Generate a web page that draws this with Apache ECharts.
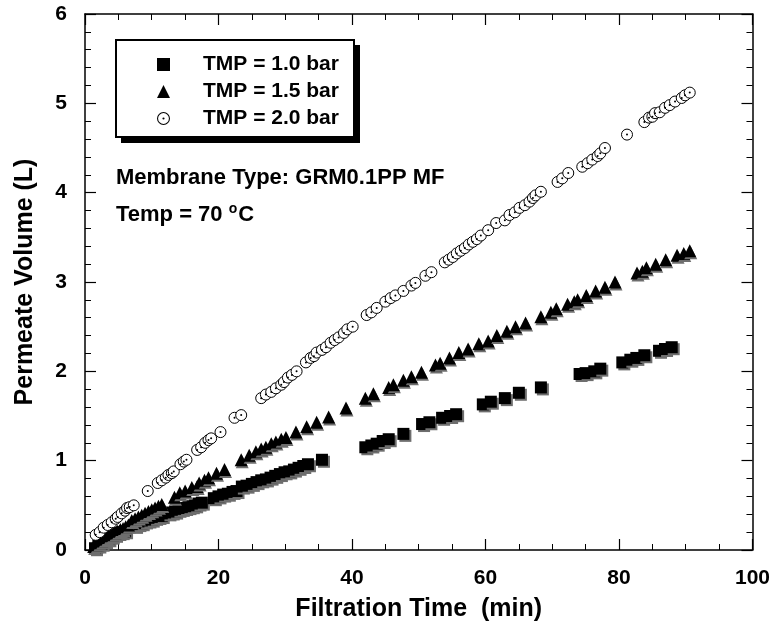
<!DOCTYPE html>
<html>
<head>
<meta charset="utf-8">
<script src="https://cdn.jsdelivr.net/npm/echarts@6/dist/echarts.min.js"></script>
<style>html,body{margin:0;padding:0;background:#fff;}#c{width:773px;height:628px;}</style>
</head>
<body>
<div id="c"></div>
<script>
const seriesNames = ['TMP = 1.0 bar', 'TMP = 1.5 bar', 'TMP = 2.0 bar'];
const xTicks = [0, 20, 40, 60, 80, 100];
const yTicks = [0, 1, 2, 3, 4, 5, 6];

const tmp10 = [[1.5,0.02],[2.0,0.05],[2.5,0.07],[3.0,0.10],[3.5,0.12],[4.0,0.15],[4.5,0.17],[5.0,0.19],[5.5,0.20],[6.0,0.21],
[7.5,0.27],[8.0,0.29],[8.5,0.30],[9.0,0.32],[9.5,0.33],[10.0,0.34],[10.5,0.36],[11.0,0.37],[11.5,0.38],[12.5,0.41],[13.0,0.42],[13.5,0.43],[14.0,0.45],[14.5,0.46],[15.0,0.47],[15.5,0.48],[16.0,0.49],[16.5,0.50],[17.0,0.52],[17.5,0.53],
[19.3,0.58],[20.0,0.60],[20.7,0.62],[21.4,0.63],[22.1,0.65],[22.7,0.66],
[23.5,0.71],[24.2,0.72],[25.0,0.74],[25.7,0.76],[26.4,0.78],[27.1,0.79],[27.8,0.81],[28.5,0.83],[29.2,0.85],[29.9,0.87],[30.6,0.88],[31.3,0.90],[32.0,0.92],[32.7,0.94],[33.4,0.96],
[35.5,1.01],[42.0,1.15],[42.9,1.17],[43.7,1.19],[44.6,1.22],[45.5,1.24],[47.7,1.30],
[50.5,1.41],[51.6,1.43],[53.5,1.48],[54.7,1.50],[55.6,1.52],[59.6,1.63],[60.8,1.66],[62.9,1.70],[65.0,1.76],[68.3,1.82],
[74.1,1.97],[75.0,1.98],[76.3,2.00],[77.2,2.03],[80.5,2.10],[81.7,2.13],[82.6,2.15],[83.8,2.18],[86.0,2.23],[86.9,2.25],[87.9,2.27]];

const tmp15 = [[1.3,0.04],[1.7,0.06],[2.1,0.08],[2.5,0.10],[2.9,0.12],[3.3,0.14],[3.7,0.16],[4.1,0.17],[4.5,0.19],[4.9,0.21],[5.3,0.23],[5.7,0.24],[6.1,0.26],[6.5,0.28],
[7.0,0.33],[7.5,0.35],[8.0,0.37],[8.5,0.39],[9.0,0.41],[9.5,0.43],[10.0,0.45],[10.5,0.47],[11.0,0.49],[11.5,0.51],
[13.4,0.59],[14.2,0.64],[15.0,0.66],[16.0,0.70],[16.8,0.71],[17.1,0.75],[17.9,0.78],[18.5,0.81],[19.7,0.86],[20.9,0.90],
[23.4,1.01],[24.6,1.06],[25.6,1.10],[26.4,1.13],[27.1,1.15],[27.9,1.19],[28.6,1.21],[29.4,1.24],[30.1,1.26],[31.6,1.32],[33.2,1.38],[34.7,1.43],[36.5,1.49],
[39.1,1.59],[42.0,1.70],[43.2,1.75],[45.5,1.82],[46.2,1.85],[47.7,1.90],[48.9,1.94],[50.4,1.99],[52.5,2.07],[53.2,2.09],[54.6,2.15],[56.0,2.21],[57.4,2.25],[59.0,2.31],[60.4,2.34],[61.7,2.40],[63.2,2.45],[64.5,2.50],[66.0,2.54],
[68.3,2.61],[69.8,2.66],[70.6,2.70],[72.3,2.75],[73.3,2.78],[73.8,2.80],[75.1,2.85],[76.5,2.90],[77.9,2.94],[79.4,3.00],
[82.7,3.10],[83.5,3.12],[84.1,3.16],[85.5,3.20],[87.0,3.25],[88.7,3.30],[89.7,3.32],[90.6,3.35]];

const tmp20 = [[1.6,0.17],[2.2,0.20],[2.8,0.25],[3.4,0.28],[4.0,0.31],[4.6,0.35],[4.9,0.37],[5.5,0.41],[6.0,0.44],[6.3,0.47],[6.7,0.48],[7.3,0.50],
[9.4,0.66],[10.9,0.75],[11.5,0.78],[12.1,0.81],[12.5,0.84],[13.0,0.86],[13.3,0.88],[14.3,0.96],[14.8,0.99],[15.2,1.01],
[16.8,1.12],[17.4,1.15],[18.0,1.20],[18.5,1.23],[18.9,1.25],[20.3,1.32],[22.4,1.48],[23.4,1.51],
[26.4,1.70],[27.1,1.74],[27.9,1.77],[28.6,1.81],[29.4,1.85],[29.8,1.88],[30.4,1.93],[31.0,1.96],[31.7,2.00],
[33.1,2.10],[33.8,2.15],[34.3,2.17],[34.7,2.21],[35.5,2.24],[36.1,2.27],[36.8,2.32],[37.4,2.35],[38.0,2.38],[38.8,2.43],[39.3,2.47],[40.1,2.50],
[42.2,2.63],[42.9,2.66],[43.7,2.71],[45.0,2.78],[45.8,2.82],[46.5,2.85],[47.7,2.90],[48.9,2.96],[49.5,2.99],[51.0,3.07],[51.9,3.11],
[53.9,3.22],[54.5,3.25],[55.1,3.28],[55.7,3.32],[56.3,3.35],[56.9,3.38],[57.5,3.42],[58.1,3.45],[58.7,3.48],[59.3,3.52],
[60.4,3.58],[61.6,3.66],[62.9,3.69],[63.6,3.75],[64.4,3.78],[65.1,3.83],[65.9,3.86],[66.6,3.90],[67.1,3.94],[67.5,3.97],[68.3,4.01],
[70.8,4.12],[71.5,4.16],[72.4,4.22],[74.5,4.29],[75.3,4.33],[76.0,4.37],[76.8,4.41],[77.2,4.44],[77.9,4.50],[81.2,4.65],
[83.8,4.79],[84.5,4.84],[85.0,4.85],[85.4,4.89],[86.1,4.90],[86.9,4.95],[87.6,4.98],[88.4,5.02],[89.4,5.06],[89.9,5.09],[90.6,5.12]];

const FONT = "'Liberation Sans', Arial, Helvetica, sans-serif";
const ringDot = 'path://M0,12 A12,12 0 1,1 24,12 A12,12 0 1,1 0,12 Z M2,12 A10,10 0 1,0 22,12 A10,10 0 1,0 2,12 Z M10,12 A2,2 0 1,1 14,12 A2,2 0 1,1 10,12 Z';

const chart = echarts.init(document.getElementById('c'), null, {renderer: 'canvas'});

const axisLineStyle = {color: '#000', width: 1.5};
function xAx(pos, showLabels) {
  return {
    type: 'value', position: pos, min: xTicks[0], max: xTicks[xTicks.length-1], interval: 20,
    axisLine: {show: true, onZero: false, lineStyle: axisLineStyle},
    axisTick: {show: true, inside: true, length: 11, lineStyle: {color: '#000', width: 1.2}},
    minorTick: {show: true, splitNumber: 4, length: 6, lineStyle: {color: '#000', width: 1}},
    splitLine: {show: false},
    axisLabel: {show: showLabels, color: '#000', fontSize: 21, fontWeight: 'bold', fontFamily: FONT, margin: 18},
    name: showLabels ? 'Filtration Time  (min)' : '',
    nameLocation: 'middle', nameGap: 47,
    nameTextStyle: {color: '#000', fontSize: 25, fontWeight: 'bold', fontFamily: FONT}
  };
}
function yAx(pos, showLabels) {
  return {
    type: 'value', position: pos, min: yTicks[0], max: yTicks[yTicks.length-1], interval: 1,
    axisLine: {show: true, onZero: false, lineStyle: axisLineStyle},
    axisTick: {show: true, inside: true, length: 11, lineStyle: {color: '#000', width: 1.2}},
    minorTick: {show: true, splitNumber: 5, length: 6, lineStyle: {color: '#000', width: 1}},
    splitLine: {show: false},
    axisLabel: {show: showLabels, color: '#000', fontSize: 21, fontWeight: 'bold', fontFamily: FONT, margin: 18},
    name: showLabels ? 'Permeate Volume (L)' : '',
    nameLocation: 'middle', nameGap: 47,
    nameTextStyle: {color: '#000', fontSize: 25, fontWeight: 'bold', fontFamily: FONT}
  };
}

chart.setOption({
  backgroundColor: '#fff',
  animation: false,
  grid: {left: 85, right: 17, top: 14, bottom: 78, containLabel: false},
  xAxis: [xAx('bottom', true), xAx('top', false)],
  yAxis: [yAx('left', true), yAx('right', false)],
  legend: {
    orient: 'vertical', left: 152, top: 49, itemWidth: 13, itemHeight: 13, itemGap: 6,
    z: 20,
    data: [
      {name: seriesNames[0], icon: 'rect'},
      {name: seriesNames[1], icon: 'triangle'},
      {name: seriesNames[2], icon: ringDot, itemStyle: {color: '#000', borderWidth: 0}}
    ],
    textStyle: {color: '#000', fontSize: 21, fontWeight: 'bold', fontFamily: FONT, padding: [0,0,0,28], lineHeight: 21},
    selectedMode: false
  },
  graphic: {
    elements: [
      {type: 'rect', id: 'boxEdge', z: 11, left: 115, top: 39, shape: {width: 238, height: 97},
       style: {fill: '#fff', stroke: '#000', lineWidth: 2}},
      {type: 'polyline', id: 'boxShadow', z: 12, shape: {points: [[357, 45], [357, 140], [121, 140]]},
       style: {stroke: '#000', lineWidth: 6, fill: null}},
      {type: 'text', id: 'membrane', left: 116, top: 167, z: 12,
       style: {text: 'Membrane Type: GRM0.1PP MF', fill: '#000', font: 'bold 22px ' + FONT}},
      {type: 'text', id: 'temp', left: 116, top: 202, z: 12,
       style: {text: '{a|Temp = 70 }{s|o}{a|C}', fill: '#000',
         rich: {a: {fontSize: 22, fontWeight: 'bold', fontFamily: FONT, fill: '#000', verticalAlign: 'bottom', lineHeight: 24},
                s: {fontSize: 14, fontWeight: 'bold', fontFamily: FONT, fill: '#000', verticalAlign: 'top', lineHeight: 24, padding: [0,1,10,0]}}}}
    ]
  },
  series: [
    {name: seriesNames[0], type: 'scatter', data: tmp10, symbol: 'rect', symbolSize: 12, z: 3,
     itemStyle: {color: '#000', shadowColor: 'rgba(110,110,110,1)', shadowOffsetX: 2, shadowOffsetY: 2, shadowBlur: 0, opacity: 1}},
    {name: seriesNames[1], type: 'scatter', data: tmp15, symbol: 'triangle', symbolSize: 13, z: 3,
     itemStyle: {color: '#000', shadowColor: 'rgba(110,110,110,1)', shadowOffsetX: 1, shadowOffsetY: 2, shadowBlur: 0, opacity: 1}},
    {name: seriesNames[2], type: 'scatter', data: tmp20, symbol: 'circle', symbolSize: 11, z: 3,
     itemStyle: {color: '#fff', borderColor: '#000', borderWidth: 1, opacity: 1}},
    {name: 'dots', type: 'scatter', data: tmp20, symbol: 'circle', symbolSize: 2, z: 4, silent: true,
     itemStyle: {color: '#000', opacity: 1}}
  ]
});
</script>
</body>
</html>
